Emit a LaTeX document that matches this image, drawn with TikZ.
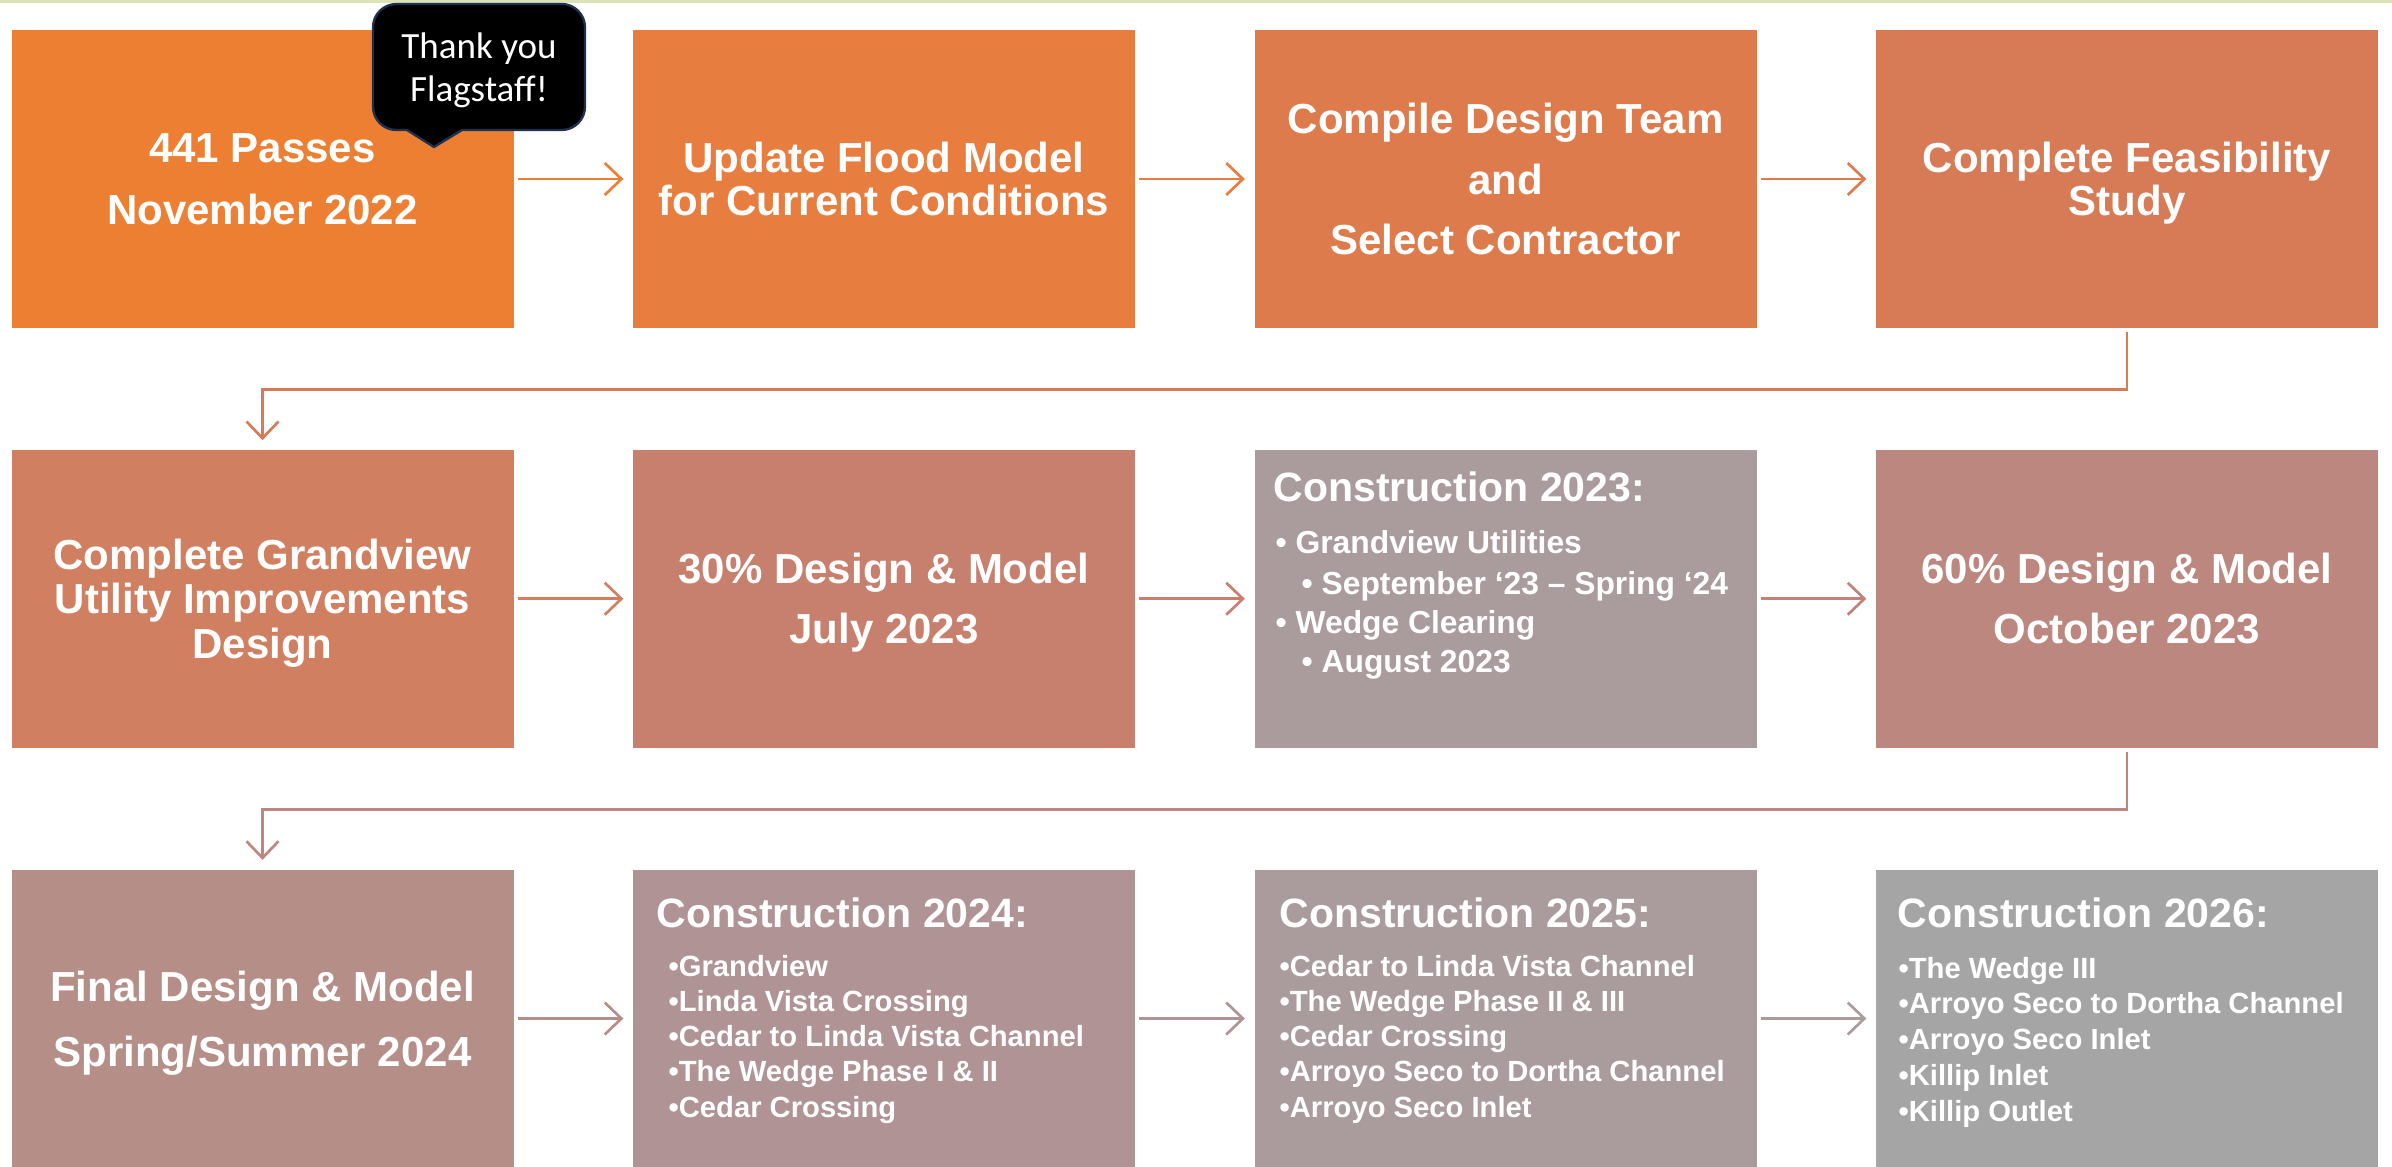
\documentclass[tikz,border=0pt]{standalone}
\usepackage{fontspec}
\setmainfont{Liberation Sans}
\newfontfamily\calloutfont{Carlito}
\usetikzlibrary{arrows.meta}
\definecolor{c11}{HTML}{ED7F32}
\definecolor{c12}{HTML}{E77D3F}
\definecolor{c13}{HTML}{DD7B4D}
\definecolor{c14}{HTML}{D77A56}
\definecolor{c21}{HTML}{D07F61}
\definecolor{c22}{HTML}{C8806E}
\definecolor{c23}{HTML}{AA9C9C}
\definecolor{c24}{HTML}{BB877E}
\definecolor{c31}{HTML}{B58E88}
\definecolor{c32}{HTML}{B09394}
\definecolor{c33}{HTML}{AA9C9C}
\definecolor{c34}{HTML}{A5A5A5}
\definecolor{a23}{HTML}{C0837A}
\definecolor{calloutborder}{HTML}{1F3050}
\definecolor{topline}{HTML}{DDE3B8}
\begin{document}
\begin{tikzpicture}[x=0.3pt,y=-0.3pt,
  box/.style={rectangle, inner sep=0pt, minimum width=150.6pt, minimum height=89.4pt, text=white, align=center},
  bigtxt/.style={font=\fontsize{12.6pt}{#1}\selectfont\bfseries},
  conn/.style={line width=0.8pt, -{Straight Barb[length=5pt,width=9.6pt]}, shorten <=1pt, shorten >=2.7pt},
  chead/.style={text=white, inner sep=0pt, anchor=base west, font=\fontsize{12.3pt}{14pt}\selectfont\bfseries},
  citem/.style={text=white, inner sep=0pt, anchor=base west, font=\fontsize{8.76pt}{10pt}\selectfont\bfseries},
  citemb/.style={text=white, inner sep=0pt, anchor=base west, font=\fontsize{9.54pt}{11pt}\selectfont\bfseries}
]
\fill[white] (0,0) rectangle (2392,1166);
\useasboundingbox (0,0) rectangle (2392,1166);
\fill[topline] (0,0) rectangle (2392,2.5);

% row 1
\node[box, fill=c11, bigtxt=18.6pt] (b11) at (262.5,179) {441 Passes\\November 2022};
\node[box, fill=c12, bigtxt=12.9pt] (b12) at (884,179) {Update Flood Model\\for Current Conditions};
\node[box, fill=c13, bigtxt=18.15pt] (b13) at (1505.5,179) {Compile Design Team\\and\\Select Contractor};
\node[box, fill=c14, bigtxt=12.9pt, text depth=0pt] (b14) at (2127,179) {Complete Feasibility\\Study};
% row 2
\node[box, fill=c21, bigtxt=13.35pt, text depth=0pt] (b21) at (262.5,598.75) {Complete Grandview\\Utility Improvements\\Design};
\node[box, fill=c22, bigtxt=18pt, text depth=0pt] (b22) at (884,598.75) {30\% Design \& Model\\July 2023};
\node[box, fill=c23] (b23) at (1505.5,598.75) {};
\node[box, fill=c24, bigtxt=18pt] (b24) at (2127,598.75) {60\% Design \& Model\\October 2023};
% row 3
\node[box, fill=c31, bigtxt=19.5pt, text depth=0pt] (b31) at (262.5,1018.5) {Final Design \& Model\\Spring/Summer 2024};
\node[box, fill=c32] (b32) at (884,1018.5) {};
\node[box, fill=c33] (b33) at (1505.5,1018.5) {};
\node[box, fill=c34] (b34) at (2127,1018.5) {};

% construction 2023
\node[chead] (h23) at (1273,501) {Construction 2023:};
\node[citemb] (i23a) at (1275,553) {• Grandview Utilities};
\node[citemb] (i23b) at (1301,594) {• September ‘23 – Spring ‘24};
\node[citemb] (i23c) at (1275,633) {• Wedge Clearing};
\node[citemb] (i23d) at (1301,672) {• August 2023};

% construction 2024
\node[chead] (h24) at (656,927) {Construction 2024:};
\foreach \t [count=\k] in {Grandview, Linda Vista Crossing, Cedar to Linda Vista Channel, The Wedge Phase I \& II, Cedar Crossing}
  \node[citem] (i24-\k) at (668,976+35.3*\k-35.3) {•\t};

% construction 2025
\node[chead] (h25) at (1279,927) {Construction 2025:};
\foreach \t [count=\k] in {Cedar to Linda Vista Channel, The Wedge Phase II \& III, Cedar Crossing, Arroyo Seco to Dortha Channel, Arroyo Seco Inlet}
  \node[citem] (i25-\k) at (1279,976+35.3*\k-35.3) {•\t};

% construction 2026
\node[chead] (h26) at (1897,927) {Construction 2026:};
\foreach \t [count=\k] in {The Wedge III, Arroyo Seco to Dortha Channel, Arroyo Seco Inlet, Killip Inlet, Killip Outlet}
  \node[citem] (i26-\k) at (1898,978+35.8*\k-35.8) {•\t};

% connectors
\draw[conn, c11] (b11) -- (b12);
\draw[conn, c12] (b12) -- (b13);
\draw[conn, c13] (b13) -- (b14);
\draw[conn, c14] (b14.south) -- ++(0,61) -| (b21.north);
\draw[conn, c21] (b21) -- (b22);
\draw[conn, c22] (b22) -- (b23);
\draw[conn, a23] (b23) -- (b24);
\draw[conn, c24] (b24.south) -- ++(0,61) -| (b31.north);
\draw[conn, c31] (b31) -- (b32);
\draw[conn, c32] (b32) -- (b33);
\draw[conn, c33] (b33) -- (b34);

% callout
\node[rounded corners=7pt, fill=black, draw=calloutborder, line width=0.7pt,
      minimum width=63.6pt, minimum height=37.8pt, inner sep=0pt, text=white, align=center, text depth=0pt,
      font=\calloutfont\fontsize{11.1pt}{12.9pt}\selectfont] (thanks) at (479,67) {Thank you\\Flagstaff!};
\fill[black] (404,127) -- (434,147) -- (465,127) -- cycle;
\draw[calloutborder, line width=0.7pt, line join=round] (407,130) -- (434,147) -- (462,130);
\end{tikzpicture}
\end{document}
